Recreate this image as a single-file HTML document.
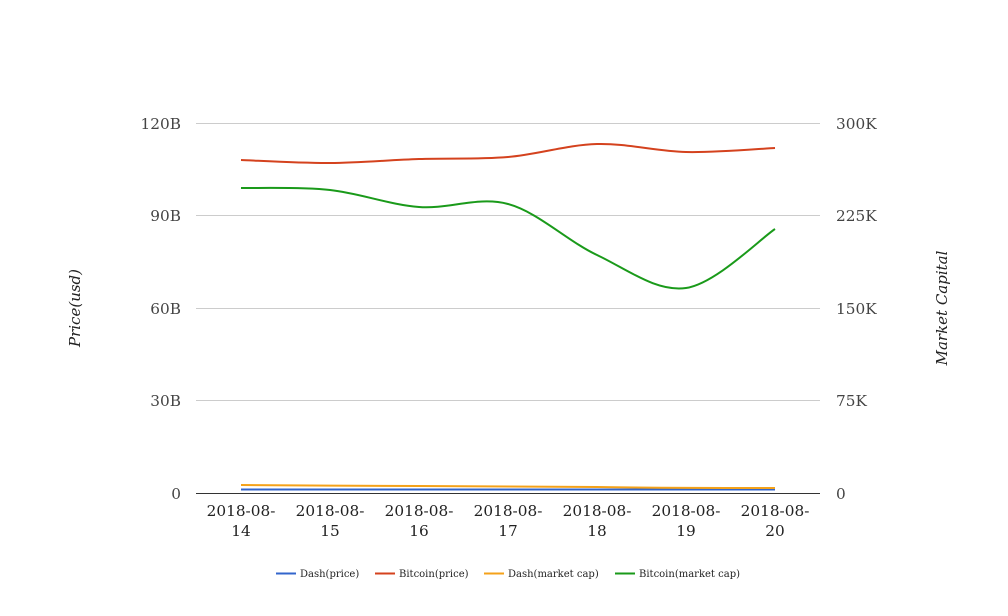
<!DOCTYPE html>
<html><head><meta charset="utf-8"><style>
html,body{margin:0;padding:0;background:#fff;}
svg{display:block;font-family:"DejaVu Serif","Liberation Serif",serif;}
</style></head><body>
<svg width="1008" height="616" viewBox="0 0 1008 616" xmlns="http://www.w3.org/2000/svg">
<g stroke="#cccccc" stroke-width="1">
<line x1="196" y1="123.5" x2="820" y2="123.5"/>
<line x1="196" y1="215.5" x2="820" y2="215.5"/>
<line x1="196" y1="308.5" x2="820" y2="308.5"/>
<line x1="196" y1="400.5" x2="820" y2="400.5"/>
</g>
<line x1="196" y1="493.5" x2="820" y2="493.5" stroke="#333" stroke-width="1"/>
<g font-size="15.3" fill="#444" text-anchor="end">
<text x="181" y="129">120B</text>
<text x="181" y="221">90B</text>
<text x="181" y="314">60B</text>
<text x="181" y="406">30B</text>
<text x="181" y="499">0</text>
</g>
<g font-size="15.3" fill="#444" text-anchor="start">
<text x="836" y="129">300K</text>
<text x="836" y="221">225K</text>
<text x="836" y="314">150K</text>
<text x="836" y="406">75K</text>
<text x="836" y="499">0</text>
</g>
<text transform="translate(80,308) rotate(-90)" font-size="15" font-style="italic" fill="#222" text-anchor="middle">Price(usd)</text>
<text transform="translate(947,308) rotate(-90)" font-size="15" font-style="italic" fill="#222" text-anchor="middle">Market Capital</text>
<g font-size="15.3" fill="#222" text-anchor="middle">
<text x="241" y="516">2018-08-</text><text x="241" y="536">14</text>
<text x="330" y="516">2018-08-</text><text x="330" y="536">15</text>
<text x="419" y="516">2018-08-</text><text x="419" y="536">16</text>
<text x="508" y="516">2018-08-</text><text x="508" y="536">17</text>
<text x="597" y="516">2018-08-</text><text x="597" y="536">18</text>
<text x="686" y="516">2018-08-</text><text x="686" y="536">19</text>
<text x="775" y="516">2018-08-</text><text x="775" y="536">20</text>
</g>
<g fill="none" stroke-width="2">
<path d="M241,489.5 L775,489.5" stroke="#3366cc"/>
<path d="M241,485 C300,485.5 360,486 419,486 C500,486.5 560,487 597,487 C650,488 700,488 775,488" stroke="#f4a21a"/>
<path d="M241,160 C255.8,160.5 300.3,163.2 330,163 C359.7,162.8 389.3,160 419,159 C448.7,158 478.3,159.5 508,157 C537.7,154.5 567.3,144.8 597,144 C626.7,143.2 656.3,151.3 686,152 C715.7,152.7 760.2,148.7 775,148" stroke="#d4421e"/>
<path d="M241,188 C255.8,188.3 300.3,186.8 330,190 C359.7,193.2 389.3,204.7 419,207 C448.7,209.3 478.3,196 508,204 C537.7,212 567.3,241 597,255 C626.7,269 656.3,292.3 686,288 C715.7,283.7 760.2,238.8 775,229" stroke="#1a9a1a"/>
</g>
<g font-size="10" fill="#222">
<line x1="276" y1="573.5" x2="296" y2="573.5" stroke="#3366cc" stroke-width="2"/>
<text x="300" y="577">Dash(price)</text>
<line x1="375" y1="573.5" x2="395" y2="573.5" stroke="#d4421e" stroke-width="2"/>
<text x="399" y="577">Bitcoin(price)</text>
<line x1="484" y1="573.5" x2="504" y2="573.5" stroke="#f4a21a" stroke-width="2"/>
<text x="508" y="577">Dash(market cap)</text>
<line x1="615" y1="573.5" x2="635" y2="573.5" stroke="#1a9a1a" stroke-width="2"/>
<text x="639" y="577">Bitcoin(market cap)</text>
</g>
</svg>
</body></html>
